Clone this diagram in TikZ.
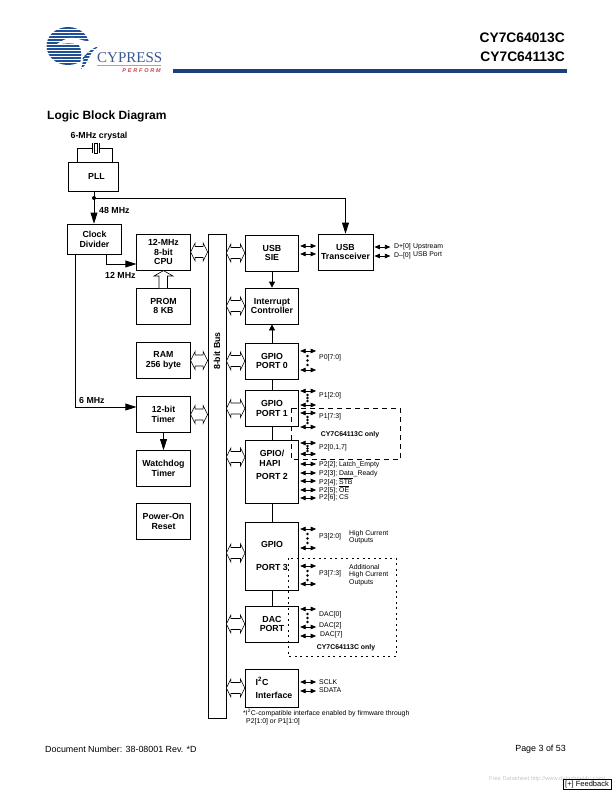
\documentclass[tikz,border=0pt]{standalone}
\usepackage{fontspec}
\setmainfont{Liberation Sans}
\newfontfamily\logofont{Liberation Serif}
\usetikzlibrary{arrows.meta,calc}
\definecolor{barblue}{HTML}{1B3F7C}
\definecolor{globeblue}{HTML}{1F4F96}
\definecolor{logotext}{HTML}{3A5A92}
\definecolor{logored}{HTML}{C8404A}
\tikzset{
  blk/.style={draw,line width=0.8pt,fill=white,align=center,inner sep=0pt,
    font=\fontsize{8.8}{9.8}\selectfont\bfseries},
  std/.style={blk,minimum width=53.5pt,minimum height=36pt},
  wire/.style={line width=0.8pt},
  flow/.style={line width=0.8pt,-{Triangle[length=11pt,width=7pt]}},
  shortflow/.style={line width=0.8pt,-{Triangle[length=6pt,width=6pt]}},
  fat/.style={line width=0.6pt,fill=white},
  pin/.style={line width=0.7pt,{Triangle[length=5.5pt,width=4.5pt]}-{Triangle[length=5.5pt,width=4.5pt]}},
  lbl/.style={font=\fontsize{8.8}{9.8}\selectfont\bfseries,inner sep=0pt},
  sig/.style={font=\fontsize{6.9}{7.5}\selectfont,inner sep=0pt,anchor=west},
  opt/.style={font=\fontsize{6.9}{7.5}\selectfont\bfseries,inner sep=0pt},
  pdot/.style={circle,fill=black,inner sep=0pt,minimum size=2.8pt},
  dashbox/.style={line width=0.7pt,dash pattern=on 5pt off 4pt},
  dotbox/.style={line width=0.7pt,dash pattern=on 2pt off 3.5pt},
}
% hollow two-way bus link between two points on one horizontal line
\newcommand{\fatlink}[2]{%
  \draw[fat] let \p1=(#1),\p2=(#2) in
    (\x1,\y1) -- (\x1+4.5pt,\y1+9pt) -- (\x1+4.5pt,\y1+5.5pt) -- (\x2-4.5pt,\y2+5.5pt)
    -- (\x2-4.5pt,\y2+9pt) -- (\x2,\y2) -- (\x2-4.5pt,\y2-9pt) -- (\x2-4.5pt,\y2-5.5pt)
    -- (\x1+4.5pt,\y1-5.5pt) -- (\x1+4.5pt,\y1-9pt) -- cycle;}
% pin arrow leaving a box at height #2, with length 16
\newcommand{\pinat}[2]{\draw[pin] (#1.east |- 0,#2) ++(1,0) -- ++(16,0);}
% column of three dots between pins
\newcommand{\pindots}[3]{\foreach \q in {0,0.5,1}
  \node[pdot] at (307.5,{#2+(#3-#2)*\q}) {};}
\begin{document}
\begin{tikzpicture}[x=1pt,y=-1pt]
\useasboundingbox (0,0) rectangle (612,792);

% ---- company mark ----
\begin{scope}
  \clip (68,46) ellipse (21.5 and 19);
  \foreach \s in {27,30,...,66} \fill[globeblue] (44,\s) rectangle (92,\s+2);
\end{scope}
\begin{scope}
  \clip (81,69) -- (86,50) -- (100,45) -- (92,52) -- (85,65) -- cycle;
  \foreach \s in {44,47,...,69} \fill[globeblue] (78,\s) rectangle (106,\s+2);
\end{scope}
\fill[white] (57,44) .. controls (62,41) and (64,39) .. (70,38)
  .. controls (78,37) and (82,42) .. (90,41)
  .. controls (96,40) and (104,39) .. (109,38.5) -- (103,42.5) -- (106,44.5)
  .. controls (96,45) and (90,50) .. (83,57) .. controls (82,60) and (81,64) .. (79.5,67)
  .. controls (82,56) and (82,50) .. (79,45)
  .. controls (72,42) and (64,44) .. (57,44) -- cycle;
\node[font=\logofont\fontsize{15}{15}\selectfont,text=logotext,inner sep=0pt,anchor=base west] (cyp) at (97,63) {CYPRESS};
\draw[logored!60,line width=0.4pt] (97,65.5) -- (161,65.5);
\node[font=\fontsize{5.5}{6}\selectfont\bfseries\itshape,text=logored,inner sep=0pt,anchor=base east] (perf) at (161,73) {P\,\,E\,\,R\,\,F\,\,O\,\,R\,\,M};

% ---- page header ----
\node[font=\fontsize{13.8}{14}\selectfont\bfseries,inner sep=0pt,anchor=east] (h1) at (565,38) {CY7C64013C};
\node[font=\fontsize{13.8}{14}\selectfont\bfseries,inner sep=0pt,anchor=east] (h2) at (565,57) {CY7C64113C};
\fill[barblue] (173,69) rectangle (567,73);
\node[font=\fontsize{12}{13}\selectfont\bfseries,inner sep=0pt,anchor=west] (title) at (47,116.5) {Logic Block Diagram};

% ---- blocks ----
\node[std,minimum width=50pt,minimum height=29pt] (pll) at (93,176.5) {\hspace*{7pt}PLL};
\node[std,minimum height=30pt] (clk) at (94.5,239) {Clock\\Divider};
\node[std] (cpu) at (163.5,252) {12-MHz\\8-bit\\CPU};
\node[std] (prom) at (163.5,306) {PROM\\8 KB};
\node[std] (ram) at (163.5,360.5) {RAM\\256 byte};
\node[std] (timer) at (163.5,414.5) {12-bit\\Timer};
\node[std] (wdog) at (163.5,468.5) {Watchdog\\Timer};
\node[std] (por) at (163.5,521.5) {Power-On\\Reset};
\node[draw,line width=0.8pt,fill=white,minimum width=18pt,minimum height=484pt,inner sep=0pt] (bus) at (217,476) {};
\node[lbl,rotate=90] (buslabel) at (217,351) {8-bit Bus};

\node[std] (sie) at (272,253) {USB\\SIE};
\node[std,minimum width=55pt] (usbx) at (345.5,252) {USB\\Transceiver};
\node[std] (intr) at (272,306) {Interrupt\\Controller};
\node[std] (gp0) at (272,361) {GPIO\\PORT 0};
\node[std] (gp1) at (272,408.5) {GPIO\\PORT 1};
\node[std,minimum height=63pt] (gp2) at (272,471.5) {GPIO/\\\hspace*{-4pt}HAPI\\[3.5pt]PORT 2\\[3pt]~};
\node[std,minimum height=68pt] (gp3) at (272,556) {GPIO\\[14pt]PORT 3};
\node[std] (dac) at (272,624) {DAC\\PORT};
\node[std,minimum height=38pt,align=left] (i2c) at (272,688) {\hspace*{4pt}I\textsuperscript{2}C\\[3pt]\hspace*{4pt}Interface};

% ---- crystal ----
\coordinate (xl) at (77,148);
\coordinate (xr) at (112,148);
\node[lbl] (xlabel) at (99,136) {6-MHz crystal};
\draw[wire] (pll.north -| xl) -- (xl) -- (92,148);
\draw[wire] (pll.north -| xr) -- (xr) -- (100,148);
\draw[line width=1.4pt] (92.5,143) -- (92.5,153) (99.5,143) -- (99.5,153);
\draw[line width=0.6pt,fill=white] (94.5,143) rectangle (97.5,153);

% ---- clock distribution ----
\coordinate (tap) at (94,198);
\draw[flow] (pll.south -| tap) -- (clk.north -| tap);
\draw[flow] (tap) -| (usbx.north);
\fill (tap) circle (2pt);
\node[lbl,anchor=west] (f48) at (99,210) {48 MHz};
\coordinate (c12) at (106,264);
\draw[flow] (clk.south -| c12) -- (c12) -- (cpu.west |- c12);
\node[lbl,anchor=west] (f12) at (105,275) {12 MHz};
\coordinate (c6) at (75,407);
\draw[flow] (clk.south -| c6) -- (c6) -- (timer.west |- c6);
\node[lbl,anchor=west] (f6) at (79,400) {6 MHz};

% ---- block-to-block arrows ----
\draw[flow] (timer) -- (wdog);
\draw[fat] (159,288) -- (159,276) -- (154,276) -- (163.5,270.6) -- (173,276) -- (167.5,276) -- (167.5,288);
\draw[shortflow] (sie) -- (intr);
\draw[shortflow] (gp0) -- (intr);
\draw[wire] (gp0) -- (gp1);
\draw[wire] (gp1) -- (gp2);
\draw[wire] (gp2) -- (gp3);
\draw[wire] (gp3) -- (dac);
\draw[pin] (sie.east |- 0,246) ++(1,0) -- ++(16,0);
\draw[pin] (sie.east |- 0,254) ++(1,0) -- ++(16,0);

% ---- bus links ----
\fatlink{cpu.east}{cpu.east -| bus.west}
\fatlink{ram.east}{ram.east -| bus.west}
\fatlink{timer.east}{timer.east -| bus.west}
\fatlink{sie.west -| bus.east}{sie.west}
\fatlink{intr.west -| bus.east}{intr.west}
\fatlink{gp0.west -| bus.east}{gp0.west}
\fatlink{gp1.west -| bus.east}{gp1.west}
\coordinate (l2) at (245,457);
\fatlink{l2 -| bus.east}{l2}
\coordinate (l3) at (245,553);
\fatlink{l3 -| bus.east}{l3}
\fatlink{dac.west -| bus.east}{dac.west}
\fatlink{i2c.west -| bus.east}{i2c.west}

% ---- transceiver pins ----
\pinat{usbx}{247}
\pinat{usbx}{256}
\node[sig,anchor=west] at (394,247) {D+[0]};
\node[sig,anchor=west] at (394,256) {D–[0]};
\node[sig] at (413,247) {Upstream};
\node[sig] at (413,254.5) {USB Port};

% ---- port pins ----
\pinat{gp0}{351}\pinat{gp0}{370}\pindots{}{356}{365}
\node[sig] at (319,358) {P0[7:0]};
\pinat{gp1}{391}\pinat{gp1}{405}\pindots{}{395}{401}
\node[sig] at (319,396) {P1[2:0]};
\pinat{gp1}{413}\pinat{gp1}{427}\pindots{}{417}{423}
\node[sig] at (319,417) {P1[7:3]};
\pinat{gp2}{443}\pinat{gp2}{454}\pindots{}{446}{451}
\node[sig] at (319,448) {P2[0,1,7]};
\pinat{gp2}{464}\node[sig] at (319,464.5) {P2[2]; Latch\_Empty};
\pinat{gp2}{473}\node[sig] at (319,473.5) {P2[3]; Data\_Ready};
\pinat{gp2}{481}\node[sig] at (319,481.5) {P2[4]; $\overline{\mbox{STB}}$};
\pinat{gp2}{490}\node[sig] at (319,490) {P2[5]; $\overline{\mbox{OE}}$};
\pinat{gp2}{498}\node[sig] at (319,498) {P2[6]; CS};
\pinat{gp3}{529}\pinat{gp3}{548}\pindots{}{534}{543}
\node[sig] at (319,537) {P3[2:0]};
\node[sig] at (349,534) {High Current};
\node[sig] at (349,541) {Outputs};
\pinat{gp3}{566}\pinat{gp3}{584}\pindots{}{571}{580}
\node[sig] at (319,574) {P3[7:3]};
\node[sig] at (349,567) {Additional};
\node[sig] at (349,575) {High Current};
\node[sig] at (349,583) {Outputs};
\pinat{dac}{609}\pinat{dac}{627}\pindots{}{614}{622}
\node[sig] at (319,615) {DAC[0]};
\node[sig] at (319,626) {DAC[2]};
\pinat{dac}{636}\node[sig] at (320,635) {DAC[7]};
\pinat{i2c}{682}\pinat{i2c}{691}
\node[sig] at (319,682) {SCLK};
\node[sig] at (319,690) {SDATA};

% ---- optional-part outlines ----
\draw[dashbox] (291,408) rectangle (400,459.5);
\node[opt] (only1) at (350,435) {CY7C64113C only};
\draw[dotbox] (288,558) rectangle (396,656);
\node[opt] (only2) at (346,648) {CY7C64113C only};

% ---- footnote and footer ----
\node[sig] (fn1) at (243,713.5) {*I\textsuperscript{2}C-compatible interface enabled by firmware through};
\node[sig] (fn2) at (246,722) {P2[1:0] or P1[1:0]};
\node[font=\fontsize{8.9}{10}\selectfont,inner sep=0pt,anchor=west] (doc) at (45,749.5) {Document Number: 38-08001 Rev. *D};
\node[font=\fontsize{8.9}{10}\selectfont,inner sep=0pt,anchor=east] (page) at (566,749.5) {Page 3 of 53};
\node[font=\fontsize{5.8}{6}\selectfont,text=black!22,inner sep=0pt,anchor=west] (free) at (489,779) {Free Datasheet http://www.datasheet4u.com/};
\node[draw,line width=0.7pt,fill=white,font=\fontsize{7.5}{8}\selectfont,inner sep=0pt,minimum width=48pt,minimum height=9.5pt] (fb) at (587,784.5) {[+] Feedback};
\end{tikzpicture}
\end{document}
